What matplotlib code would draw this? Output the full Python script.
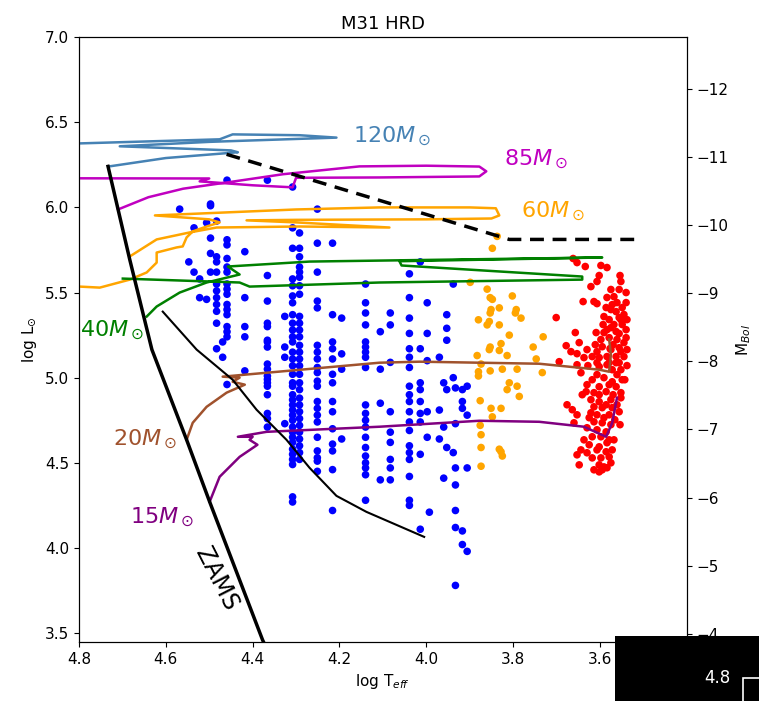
import matplotlib
matplotlib.use("Agg")
import matplotlib.pyplot as plt
from matplotlib.patches import Rectangle

# ---------------- data (log Teff, log L) ----------------
# blue supergiants: spectral-type columns (logT) with their logL values
blue_teff = [4.568, 4.547, 4.535, 4.522, 4.506, 4.497, 4.483, 4.469, 4.459, 4.418,
             4.366, 4.326, 4.308, 4.292, 4.251, 4.216, 4.195, 4.140, 4.106, 4.083,
             4.039, 4.014, 3.998, 3.993, 3.970, 3.960, 3.953, 3.938, 3.933, 3.917, 3.906]
blue_lum = [
    [5.99],
    [5.68],
    [5.88, 5.62],
    [5.58, 5.47],
    [5.91, 5.46],
    [6.02, 6.01, 5.82, 5.73, 5.62],
    [5.92, 5.71, 5.68, 5.62, 5.55, 5.51, 5.47, 5.43, 5.39, 5.32, 5.17],
    [5.21, 5.12],
    [6.16, 5.81, 5.78, 5.70, 5.65, 5.62, 5.55, 5.52, 5.49, 5.43, 5.40, 5.37, 5.30, 5.27, 5.24, 4.96],
    [5.74, 5.47, 5.30, 5.24, 5.04],
    [6.16, 5.60, 5.45, 5.32, 5.30, 5.22, 5.21, 5.18, 5.08, 5.05, 5.01, 4.99, 4.97, 4.95, 4.90, 4.79, 4.76, 4.71],
    [5.36, 5.18, 5.12, 4.73],
    [6.12, 5.88, 5.76, 5.58, 5.54, 5.48, 5.44, 5.37, 5.32, 5.28, 5.24, 5.21, 5.15, 5.11, 5.07, 5.02, 4.97,
     4.95, 4.90, 4.87, 4.84, 4.81, 4.78, 4.75, 4.71, 4.68, 4.65, 4.62, 4.58, 4.55, 4.52, 4.49, 4.30, 4.27],
    [5.85, 5.76, 5.71, 5.65, 5.62, 5.59, 5.54, 5.49, 5.36, 5.32, 5.28, 5.24, 5.19, 5.15, 5.11, 5.07, 5.02,
     4.97, 4.93, 4.88, 4.84, 4.80, 4.76, 4.72, 4.68, 4.64, 4.60, 4.56, 4.52],
    [5.99, 5.79, 5.62, 5.45, 5.41, 5.19, 5.15, 5.11, 5.06, 5.03, 4.98, 4.95, 4.86, 4.82, 4.78, 4.74, 4.65,
     4.57, 4.53, 4.51, 4.45],
    [5.79, 5.37, 5.21, 5.17, 5.11, 5.02, 4.97, 4.86, 4.80, 4.70, 4.61, 4.57, 4.46, 4.22],
    [5.35, 5.14, 5.05, 4.64],
    [5.55, 5.44, 5.38, 5.31, 5.21, 5.18, 5.15, 5.12, 5.06, 4.84, 4.79, 4.75, 4.71, 4.65, 4.59, 4.54, 4.50,
     4.47, 4.43, 4.28],
    [5.27, 5.05, 4.85, 4.40],
    [5.38, 5.31, 5.09, 4.80, 4.68, 4.62, 4.52, 4.47, 4.40],
    [5.61, 5.47, 5.35, 5.26, 5.17, 5.12, 5.06, 4.95, 4.90, 4.86, 4.80, 4.74, 4.69, 4.60, 4.56, 4.52, 4.42,
     4.28, 4.25],
    [5.68, 5.17, 4.97, 4.93, 4.86, 4.79, 4.74, 4.55, 4.11],
    [5.44, 5.26, 5.10, 4.80, 4.65],
    [4.21],
    [5.12, 4.81, 4.64],
    [4.97, 4.71, 4.41],
    [5.37, 5.29, 5.22, 4.93, 4.59],
    [5.55, 5.00, 4.56],
    [4.94, 4.73, 4.47, 4.37, 4.22, 4.12, 3.78],
    [4.93, 4.86, 4.82, 4.10, 4.02],
    [4.95, 4.78, 4.47, 3.98],
]

# yellow supergiants (logT, logL)
yellow_pts = [
    (3.837, 5.83), (3.848, 5.76), (3.899, 5.56), (3.860, 5.52), (3.853, 5.47), (3.848, 5.46),
    (3.802, 5.48), (3.851, 5.40), (3.853, 5.38), (3.832, 5.41), (3.793, 5.40), (3.795, 5.38),
    (3.782, 5.35), (3.880, 5.34), (3.855, 5.33), (3.860, 5.31), (3.832, 5.31), (3.809, 5.25),
    (3.731, 5.24), (3.853, 5.18), (3.855, 5.165), (3.828, 5.20), (3.832, 5.16), (3.883, 5.13),
    (3.814, 5.13), (3.754, 5.18), (3.747, 5.11), (3.874, 5.08), (3.880, 5.035), (3.880, 5.01),
    (3.853, 5.04), (3.825, 5.05), (3.791, 5.05), (3.733, 5.03), (3.809, 4.97), (3.791, 4.95),
    (3.814, 4.93), (3.786, 4.89), (3.876, 4.865), (3.851, 4.82), (3.828, 4.82), (3.848, 4.77),
    (3.876, 4.72), (3.874, 4.665), (3.874, 4.59), (3.832, 4.58), (3.828, 4.565), (3.825, 4.54),
    (3.874, 4.48),
]

# red supergiants (logT, logL)
red_pts = [
    (3.662, 5.700), (3.653, 5.676), (3.634, 5.653), (3.598, 5.659), (3.584, 5.647), (3.602, 5.600),
    (3.554, 5.600), (3.552, 5.565), (3.607, 5.565), (3.621, 5.535), (3.540, 5.500), (3.639, 5.447),
    (3.614, 5.447), (3.607, 5.435), (3.584, 5.471), (3.568, 5.476), (3.561, 5.441), (3.549, 5.412),
    (3.540, 5.441), (3.586, 5.412), (3.575, 5.400), (3.563, 5.388), (3.701, 5.353), (3.591, 5.359),
    (3.579, 5.341), (3.552, 5.341), (3.545, 5.371), (3.568, 5.312), (3.549, 5.312), (3.584, 5.282),
    (3.563, 5.271), (3.540, 5.282), (3.657, 5.265), (3.609, 5.265), (3.591, 5.265), (3.598, 5.224),
    (3.579, 5.235), (3.561, 5.224), (3.540, 5.235), (3.678, 5.188), (3.630, 5.165), (3.607, 5.153),
    (3.595, 5.182), (3.575, 5.165), (3.556, 5.176), (3.538, 5.165), (3.653, 5.141), (3.637, 5.118),
    (3.618, 5.124), (3.602, 5.118), (3.584, 5.124), (3.563, 5.124), (3.545, 5.124), (3.694, 5.094),
    (3.607, 5.088), (3.579, 5.088), (3.556, 5.088), (3.653, 5.076), (3.644, 5.029), (3.602, 5.065),
    (3.584, 5.076), (3.563, 5.088), (3.552, 5.047), (3.549, 4.988), (3.607, 5.018), (3.591, 5.000),
    (3.572, 4.976), (3.630, 4.959), (3.602, 4.947), (3.563, 4.947), (3.632, 4.918), (3.614, 4.912),
    (3.586, 4.918), (3.552, 4.912), (3.621, 4.871), (3.602, 4.859), (3.575, 4.871), (3.552, 4.882),
    (3.676, 4.841), (3.664, 4.812), (3.614, 4.829), (3.595, 4.824), (3.572, 4.824), (3.653, 4.782),
    (3.621, 4.794), (3.607, 4.782), (3.579, 4.782), (3.556, 4.800), (3.660, 4.735), (3.614, 4.741),
    (3.595, 4.735), (3.575, 4.724), (3.630, 4.706), (3.607, 4.694), (3.586, 4.682), (3.618, 4.653),
    (3.598, 4.653), (3.579, 4.635), (3.625, 4.606), (3.602, 4.594), (3.584, 4.618), (3.644, 4.576),
    (3.630, 4.559), (3.607, 4.576), (3.586, 4.565), (3.653, 4.547), (3.618, 4.529), (3.598, 4.529),
    (3.579, 4.535), (3.602, 4.488), (3.591, 4.476), (3.575, 4.500), (3.595, 4.459), (3.584, 4.471),
    (3.575, 5.518), (3.556, 5.518), (3.572, 5.429), (3.556, 5.353), (3.575, 5.294), (3.556, 5.259),
    (3.570, 5.194), (3.552, 5.153), (3.572, 5.047), (3.561, 5.018), (3.579, 4.959), (3.570, 4.900),
    (3.561, 4.841), (3.586, 4.841), (3.566, 4.753), (3.591, 4.765), (3.602, 4.900), (3.618, 4.988),
    (3.577, 5.171), (3.593, 5.312), (3.545, 5.206), (3.538, 5.341), (3.568, 4.635), (3.572, 4.576),
    (3.614, 4.459), (3.602, 4.447), (3.637, 4.635), (3.648, 4.488), (3.543, 4.988), (3.538, 5.071),
    (3.554, 4.724), (3.641, 4.900), (3.625, 4.765), (3.667, 5.153), (3.648, 5.206), (3.611, 5.194),
    (3.628, 5.071),
]

# evolutionary tracks
trk120_T = [4.730, 4.600, 4.434, 4.450, 4.706, 4.500, 4.207, 4.292, 4.446, 4.476, 4.798, 4.850]
trk120_L = [6.241, 6.290, 6.324, 6.335, 6.359, 6.385, 6.410, 6.424, 6.429, 6.400, 6.376, 6.372]

trk85_T = [4.710, 4.640, 4.560, 4.450, 4.330, 4.154, 4.000, 3.878, 3.862, 3.878, 4.108, 4.300,
           4.308, 4.400, 4.522, 4.500, 4.798, 4.850]
trk85_L = [5.988, 6.060, 6.110, 6.150, 6.195, 6.241, 6.245, 6.240, 6.212, 6.182, 6.176, 6.174,
           6.118, 6.130, 6.153, 6.170, 6.171, 6.170]

trk60_T = [4.683, 4.621, 4.545, 4.483, 4.292, 4.085, 4.300, 4.414, 4.300, 4.000, 3.850, 3.832,
           3.840, 3.900, 4.108, 4.300, 4.625, 4.500, 4.476, 4.506, 4.538, 4.552, 4.561, 4.575,
           4.621, 4.621, 4.644, 4.683, 4.752, 4.798, 4.850]
trk60_L = [5.712, 5.812, 5.853, 5.882, 5.888, 5.882, 5.912, 5.924, 5.927, 5.930, 5.935, 5.953,
           5.995, 6.000, 6.000, 5.988, 5.953, 5.930, 5.912, 5.888, 5.859, 5.824, 5.771, 5.765,
           5.735, 5.676, 5.618, 5.576, 5.529, 5.535, 5.540]

trk40_T = [4.644, 4.621, 4.568, 4.506, 4.430, 4.457, 4.269, 3.595, 4.062, 4.057, 3.641, 3.641,
           4.108, 4.407, 4.430, 4.699]
trk40_L = [5.359, 5.418, 5.500, 5.559, 5.606, 5.653, 5.682, 5.706, 5.684, 5.659, 5.594, 5.576,
           5.559, 5.535, 5.559, 5.582]

trk20_T = [4.552, 4.538, 4.506, 4.460, 4.418, 4.446, 4.430, 4.469, 4.368, 4.108, 4.016, 3.740,
           3.602, 3.579, 3.575, 3.579]
trk20_L = [4.635, 4.735, 4.829, 4.912, 4.959, 4.976, 5.000, 5.006, 5.029, 5.088, 5.094, 5.082,
           5.047, 5.035, 5.135, 5.224]

trk15_T = [4.499, 4.476, 4.430, 4.389, 4.407, 4.400, 4.434, 4.368, 4.108, 3.878, 3.740, 3.637,
           3.586, 3.572, 3.561]
trk15_L = [4.271, 4.418, 4.535, 4.606, 4.635, 4.653, 4.653, 4.682, 4.712, 4.747, 4.741, 4.712,
           4.653, 4.735, 4.882]

zams_T = [4.733, 4.683, 4.632, 4.552, 4.499, 4.377, 4.366]
zams_L = [6.241, 5.694, 5.165, 4.635, 4.271, 3.459, 3.400]

thin_T = [4.607, 4.529, 4.446, 4.391, 4.322, 4.269, 4.207, 4.138, 4.005]
thin_L = [5.388, 5.165, 4.988, 4.812, 4.635, 4.471, 4.306, 4.212, 4.065]

hd_T = [4.460, 3.809, 3.506]
hd_L = [6.312, 5.812, 5.812]

track_labels = [r"$120M_\odot$", r"$85M_\odot$", r"$60M_\odot$", r"$40M_\odot$", r"$20M_\odot$", r"$15M_\odot$"]
label_T = [4.170, 3.821, 3.782, 4.798, 4.722, 4.683]
label_L = [6.418, 6.280, 5.976, 5.280, 4.635, 4.180]

mbol_ticks = [-12, -11, -10, -9, -8, -7, -6, -5, -4]

# ---------------- plot ----------------
fig = plt.figure(figsize=(7.59, 7.01), dpi=100)
ax = fig.add_axes([0.104, 0.084, 0.801, 0.863])

bT, bL = [], []
for t, ls in zip(blue_teff, blue_lum):
    for l in ls:
        bT.append(t)
        bL.append(l)
ax.scatter(bT, bL, s=30, color="blue", edgecolors="none", zorder=2)
ax.scatter([p[0] for p in yellow_pts], [p[1] for p in yellow_pts], s=30, color="orange",
           edgecolors="none", zorder=2)
ax.scatter([p[0] for p in red_pts], [p[1] for p in red_pts], s=30, color="red",
           edgecolors="none", zorder=2)

track_colors = ["steelblue", "#c000c0", "orange", "green", "sienna", "purple"]
tracks = [(trk120_T, trk120_L), (trk85_T, trk85_L), (trk60_T, trk60_L),
          (trk40_T, trk40_L), (trk20_T, trk20_L), (trk15_T, trk15_L)]
for (tt, ll), c in zip(tracks, track_colors):
    ax.plot(tt, ll, color=c, lw=1.8, zorder=3)

ax.plot(zams_T, zams_L, color="black", lw=2.5, zorder=3)
ax.plot(thin_T, thin_L, color="black", lw=1.5, zorder=3)
ax.plot(hd_T, hd_L, color="black", lw=2.5, ls=(0, (4, 2.5)), zorder=3)

for txt, tx, ty, c in zip(track_labels, label_T, label_L, track_colors):
    ax.text(tx, ty, txt, color=c, fontsize=16, ha="left", va="center", zorder=4)

ax.text(4.483, 3.82, "ZAMS", fontsize=17, rotation=-63, ha="center", va="center",
        color="black", zorder=4)

ax.set_xlim(4.8, 3.4)
ax.set_ylim(3.447, 7.0)
ax.set_xticks([4.8, 4.6, 4.4, 4.2, 4.0, 3.8, 3.6])
ax.set_yticks([3.5, 4.0, 4.5, 5.0, 5.5, 6.0, 6.5, 7.0])
ax.tick_params(labelsize=11)
ax.set_xlabel(r"log T$_{eff}$", fontsize=11)
ax.set_ylabel(r"log L$_{\odot}$", fontsize=11)
ax.set_title("M31 HRD", fontsize=13)

ax2 = ax.twinx()
ax2.set_ylim(4.74 - 2.5 * 3.447, 4.74 - 2.5 * 7.0)
ax2.set_yticks(mbol_ticks)
ax2.tick_params(labelsize=11)
ax2.set_ylabel(r"M$_{Bol}$", fontsize=11, labelpad=4)

# overlay box in lower-right corner
fig.patches.append(Rectangle((0.810, 0.0), 0.19, 0.0927, transform=fig.transFigure,
                             facecolor="black", edgecolor="none", zorder=10))
fig.patches.append(Rectangle((0.979, -0.01), 0.04, 0.043, transform=fig.transFigure,
                             facecolor="none", edgecolor="white", lw=1.2, zorder=11))
fig.text(0.945, 0.033, "4.8", color="white", fontsize=12, ha="center", va="center", zorder=12)

fig.savefig("out.png", dpi=100)
